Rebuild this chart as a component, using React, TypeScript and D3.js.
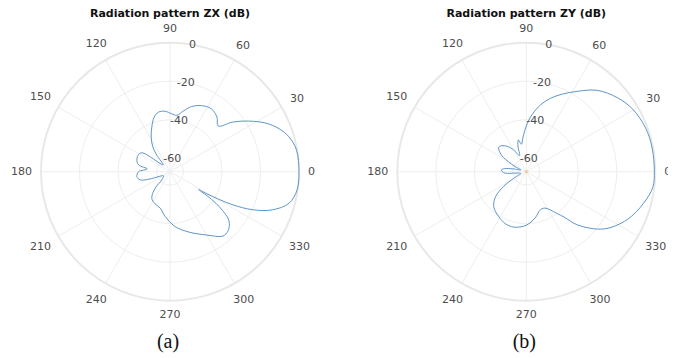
import React, { useEffect, useRef } from 'react';
import * as d3 from 'd3';

// --- data (angle in degrees, gain in dB) ---
const zxAngles = [0, 9.6, 16.3, 21.5, 26.9, 32.5, 38.3, 43.5, 49.3, 56.7, 64.6, 71.7, 77.7, 83, 88.4, 94.7, 101, 106.2, 112.2, 118.5, 124.7, 128.7, 135, 146, 152.7, 163.3, 168, 173, 180, 188.5, 195.5, 200, 213, 225, 228, 235.5, 245, 255, 263.7, 275, 288, 300.3, 309.4, 314.2, 318, 321, 323.5, 325.5, 327, 328, 329, 330.5, 332.2, 335.3, 339.6, 345.2, 351.9];
const zxGain = [0, -0.3, -2.6, -6.1, -11.2, -18.1, -25.4, -32.5, -29.6, -27.9, -29, -31.4, -34.8, -37.5, -36.9, -35.5, -35.5, -37.5, -42, -46.5, -51.3, -56, -62, -49.4, -48.3, -49.1, -50.5, -55, -50.7, -49.6, -51, -56, -63, -61, -55.4, -50.3, -48.6, -47.4, -43.7, -38.5, -33.9, -28.9, -23.7, -23.9, -25.5, -28, -33, -38, -44, -49.5, -45, -38, -30.1, -19.7, -10.2, -3, -0.3];

const zyAngles = [0, 11, 20, 30, 39, 49, 57.5, 65, 72, 78, 84, 88, 92, 96, 100, 104, 108, 113, 120, 127, 133, 138, 143, 148, 155, 162, 168, 172, 176, 180, 184, 188, 197, 207, 213, 219, 227, 238, 248, 257, 267, 274, 282, 289, 297, 306, 310, 314, 323.6, 334.6, 345, 353];
const zyGain = [-0.5, -0.5, -1, -2.8, -6, -11, -17.5, -22.5, -27, -31.5, -37, -41, -45.5, -49.5, -52.5, -50, -53, -58, -54, -50.5, -48.5, -47.8, -49.5, -53, -60, -64, -60, -55.5, -54, -54.5, -56, -62, -64, -60, -53, -46.5, -42.2, -39.7, -37.9, -37.5, -38.6, -40.3, -43, -45.7, -45.8, -40.4, -36, -28.5, -16.9, -9, -3.9, -0.8];

const thetaTicks = [0, 30, 60, 90, 120, 150, 180, 210, 240, 270, 300, 330];
const rTicks = [-60, -40, -20, 0];
const rLimits = [-67, 0];
const titles = ['Radiation pattern ZX (dB)', 'Radiation pattern ZY (dB)'];
const captions = ['(a)', '(b)'];

const W = 676;
const H = 358;
const R = 129;
const centers = [[170, 171.7], [526.3, 171.7]];
const cropRight = 668; // the source figure is cut off here

const toRad = (deg) => (deg * Math.PI) / 180;

const App = () => {
  const ref = useRef(null);

  useEffect(() => {
    const svg = d3.select(ref.current);
    svg.selectAll('*').remove();

    svg.append('defs').append('clipPath').attr('id', 'crop')
      .append('rect').attr('x', 0).attr('y', 0).attr('width', cropRight).attr('height', H);

    const rScale = d3.scaleLinear().domain(rLimits).range([0, R]).clamp(true);
    const series = [
      zxAngles.map((a, i) => ({ a, g: zxGain[i] })),
      zyAngles.map((a, i) => ({ a, g: zyGain[i] })),
    ];

    const root = svg.append('g').attr('clip-path', 'url(#crop)');

    centers.forEach(([cx, cy], k) => {
      const g = root.append('g').attr('transform', `translate(${cx},${cy})`);

      // spokes
      g.selectAll('.spoke').data(thetaTicks).enter().append('line')
        .attr('x1', 0).attr('y1', 0)
        .attr('x2', d => R * Math.cos(toRad(d)))
        .attr('y2', d => -R * Math.sin(toRad(d)))
        .attr('stroke', '#eeeeee').attr('stroke-width', 1);

      // rings
      g.selectAll('.ring').data(rTicks.slice(0, -1)).enter().append('circle')
        .attr('r', d => rScale(d))
        .attr('fill', 'none').attr('stroke', '#eeeeee').attr('stroke-width', 1);
      g.append('circle').attr('r', R)
        .attr('fill', 'none').attr('stroke', '#e8e8e8').attr('stroke-width', 2);

      // theta labels
      const labelPos = (d) => {
        const c = Math.cos(toRad(d)), s = Math.sin(toRad(d));
        const off = R + 9 + Math.abs(c) * String(d).length * 3.5 + Math.abs(s) * 5;
        return [off * c, -off * s];
      };
      g.selectAll('.tlab').data(thetaTicks).enter().append('text')
        .attr('x', d => labelPos(d)[0])
        .attr('y', d => labelPos(d)[1])
        .attr('text-anchor', 'middle').attr('dominant-baseline', 'central')
        .style('font-family', 'DejaVu Sans').style('font-size', '11px')
        .attr('fill', '#4d4d4d').text(d => d);

      // the pattern
      const line = d3.lineRadial()
        .angle(d => Math.PI / 2 - toRad(d.a))
        .radius(d => rScale(d.g))
        .curve(d3.curveCatmullRomClosed.alpha(0.5));
      g.append('path').datum(series[k]).attr('d', line)
        .attr('fill', 'none').attr('stroke', '#5f95c8').attr('stroke-width', 1);

      if (k === 1) {
        g.append('circle').attr('r', 1.6).attr('fill', '#f3c9a2');
      }

      // r labels at 80 deg
      g.selectAll('.rlab').data(rTicks).enter().append('text')
        .attr('x', d => rScale(d) * Math.cos(toRad(80)))
        .attr('y', d => -rScale(d) * Math.sin(toRad(80)))
        .attr('text-anchor', 'middle').attr('dominant-baseline', 'central')
        .style('font-family', 'DejaVu Sans').style('font-size', '11px')
        .attr('fill', '#4d4d4d').text(d => d);

      // title and caption
      root.append('text').attr('x', cx).attr('y', 16.5).attr('text-anchor', 'middle')
        .style('font-family', 'DejaVu Sans').style('font-size', '11px').style('font-weight', 'bold')
        .attr('fill', '#111').text(titles[k]);
      root.append('text').attr('x', cx - 2).attr('y', 348).attr('text-anchor', 'middle')
        .style('font-family', 'Liberation Serif').style('font-size', '20px')
        .attr('fill', '#111').text(captions[k]);
    });
  }, []);

  return (
    <svg ref={ref} width={W} height={H}
      style={{ position: 'absolute', left: 0, top: 0, background: '#fff' }} />
  );
};

export default App;
